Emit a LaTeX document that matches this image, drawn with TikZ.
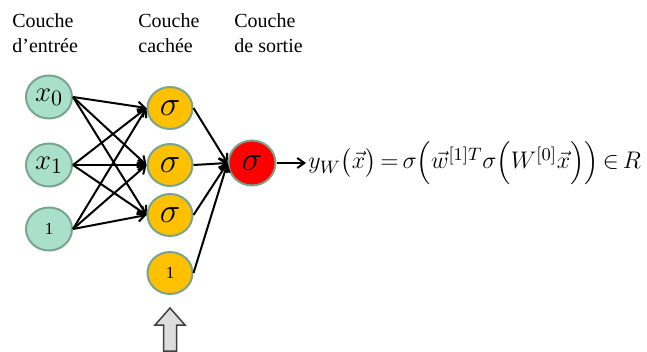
\documentclass[tikz,border=0pt]{standalone}
\usepackage{amsmath}
\usepackage{fontspec}
\setmainfont{Liberation Serif}
\usepackage{tikz}
\usetikzlibrary{arrows.meta,positioning,shapes.geometric}
\definecolor{vertclair}{RGB}{168,224,204}
\definecolor{bordvert}{RGB}{122,164,142}
\definecolor{orangecache}{RGB}{255,192,0}
\definecolor{rougesortie}{RGB}{255,0,0}
\definecolor{grisclair}{RGB}{221,221,221}
\tikzset{
  entree/.style={ellipse,draw=bordvert,fill=vertclair,line width=1pt,
    minimum width=23pt,minimum height=21.5pt,inner sep=0pt,font=\fontsize{15}{15}\selectfont},
  cache/.style={ellipse,draw=bordvert,fill=orangecache,line width=1pt,
    minimum width=22.5pt,minimum height=21pt,inner sep=0pt,font=\fontsize{19}{19}\selectfont},
  sortie/.style={ellipse,draw=bordvert,fill=rougesortie,line width=1pt,
    minimum width=23.5pt,minimum height=22.5pt,inner sep=0pt,font=\fontsize{19}{19}\selectfont},
  titre/.style={anchor=north west,align=left,inner sep=0pt,font=\fontsize{10}{12.5}\selectfont},
  fleche/.style={-{Straight Barb[length=3.5pt,width=5pt]},line width=1pt}
}
\begin{document}
\begin{tikzpicture}[x=0.5pt,y=-0.5pt]
  \useasboundingbox (0,0) rectangle (647,352);
  \node[titre] (t0) at (12,13) {Couche\\d’entrée};
  \node[titre] (t1) at (138,13) {Couche\\cachée};
  \node[titre] (t2) at (234,13) {Couche\\de sortie};
  \foreach \n/\y/\lab in {0/97/$x_0$,1/165/$x_1$,2/229/{\fontsize{8.5}{8.5}\selectfont 1}}
    {\node[entree] (e\n) at (49,\y) {\lab};}
  \foreach \n/\y in {0/108,1/165,2/215}
    {\node[cache] (c\n) at (170,\y) {$\sigma$};}
  \node[cache] (c3) at (170,273) {\fontsize{8.5}{8.5}\selectfont 1};
  \node[sortie] (s) at (252,163) {$\sigma$};
  \foreach \i in {0,1,2}
    {\foreach \j in {0,1,2}
      {\draw[fleche] (e\i.east) -- (c\j.west);}}
  \foreach \j in {0,1,2,3}
    {\draw[fleche] (c\j.east) -- (s.west);}
  \node[anchor=west,inner sep=1pt,font=\fontsize{12.5}{15}\selectfont] (f) at (306,163)
    {$\medmuskip=2mu\thickmuskip=3mu y_W\bigl(\vec{x}\bigr)=\sigma\Bigl(\vec{w}^{[1]T}\sigma\Bigl(W^{[0]}\vec{x}\Bigr)\Bigr)\in R$};
  \draw[fleche] (s.east) -- (f.west);
  % fleche grise sous la couche cachee
  \draw[draw=black!75,fill=grisclair,line width=0.75pt]
    (170,308) -- (185,325) -- (176.5,325) -- (176.5,351) -- (163.5,351)
    -- (163.5,325) -- (155,325) -- cycle;
\end{tikzpicture}
\end{document}
